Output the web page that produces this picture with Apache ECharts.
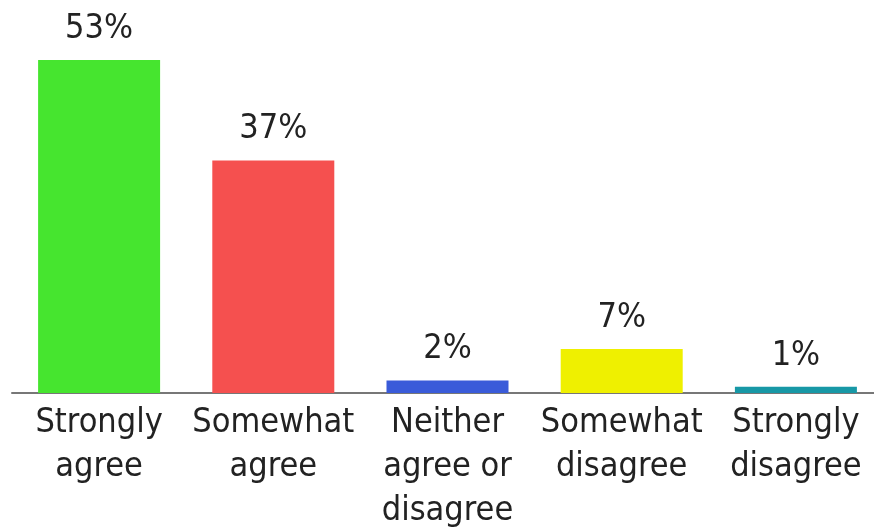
<!DOCTYPE html>
<html><head><meta charset="utf-8">
<script src="https://cdn.jsdelivr.net/npm/echarts@6/dist/echarts.min.js"></script>
<style>html,body{margin:0;padding:0;background:#fff}#c{width:874px;height:529px}</style>
</head><body><div id="c"></div>
<script>
const categories = ["Strongly\nagree", "Somewhat\nagree", "Neither\nagree or\ndisagree", "Somewhat\ndisagree", "Strongly\ndisagree"];
const values = [53, 37, 2, 7, 1];
const colors = ["#46E52F", "#F5504F", "#3A5BD9", "#EFF000", "#1798A6"];
const FONT = "'Liberation Sans Narrow', 'DejaVu Sans Condensed', 'Arial Narrow', sans-serif";

const chart = echarts.init(document.getElementById('c'));
chart.setOption({
  animation: false,
  grid: { left: 12, width: 871, top: 16, bottom: 136, containLabel: false, outerBoundsMode: 'none' },
  xAxis: {
    type: 'category',
    data: categories,
    axisLine: { show: true, lineStyle: { color: '#777', width: 2 } },
    axisTick: { show: false },
    axisLabel: { interval: 0, color: '#222', fontFamily: FONT, fontSize: 34, lineHeight: 44, margin: 8 }
  },
  yAxis: { type: 'value', min: 0, max: 60, show: false, splitLine: { show: false } },
  series: [{
    type: 'bar',
    data: values.map((v, i) => ({ value: v, itemStyle: { color: colors[i] } })),
    barWidth: 122,
    label: { show: true, position: 'top', distance: 14, formatter: '{c}%', color: '#222', fontFamily: FONT, fontSize: 34 }
  }]
});
</script></body></html>
